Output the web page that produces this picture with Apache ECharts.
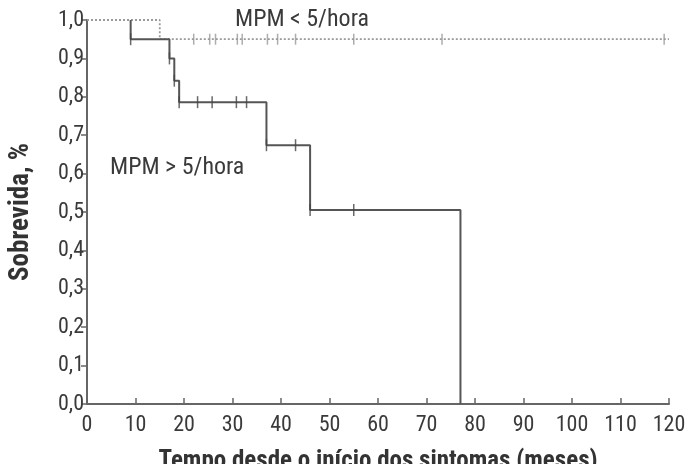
<!DOCTYPE html>
<html>
<head>
<meta charset="utf-8">
<script src="https://cdn.jsdelivr.net/npm/echarts@6/dist/echarts.min.js"></script>
<style>
  html, body { margin: 0; padding: 0; background: #fff; }
  #chart { width: 688px; height: 464px; }
</style>
</head>
<body>
<div id="chart"></div>
<script>
// curva MPM > 5/hora (linha continua) - pontos do degrau
var highTimes = [9, 9, 17, 18, 19, 37, 46, 77]
var highSurv = [1.0, 0.95, 0.90, 0.842, 0.786, 0.674, 0.505, 0]
// censuras MPM > 5/hora
var highCensTimes = [9, 17, 18, 19, 22.8, 25.8, 30.8, 32.9, 37, 43, 46, 55]
var highCensSurv = [0.95, 0.90, 0.842, 0.786, 0.786, 0.786, 0.786, 0.786, 0.674, 0.674, 0.505, 0.505]

// curva MPM < 5/hora (pontilhada)
var lowTimes = [0, 15, 120]
var lowSurv = [1.0, 0.95, 0.95]
var lowCensTimes = [22, 25.3, 26.5, 31, 32, 37.2, 39.3, 43, 55, 73.2, 119]

var xTicks = [0, 10, 20, 30, 40, 50, 60, 70, 80, 90, 100, 110, 120]
var yTicks = [0, 0.1, 0.2, 0.3, 0.4, 0.5, 0.6, 0.7, 0.8, 0.9, 1.0]

var font = '"Roboto Condensed", "DejaVu Sans Condensed", sans-serif'

function pairs (xs, ys) {
  return xs.map(function (x, i) { return [x, ys[i]] })
}

var chart = echarts.init(document.getElementById('chart'))
chart.setOption({
  animation: false,
  textStyle: { fontFamily: font },
  grid: { left: 87, right: 19, top: 20, bottom: 60, containLabel: false, outerBoundsMode: 'none' },
  xAxis: {
    type: 'value',
    min: xTicks[0],
    max: xTicks[xTicks.length - 1],
    interval: 10,
    name: 'Tempo desde o início dos sintomas (meses)',
    nameLocation: 'middle',
    nameGap: 45,
    nameTextStyle: { fontFamily: font, fontSize: 25, fontWeight: 'bold', color: '#333' },
    axisLine: { lineStyle: { color: '#666', width: 2 } },
    axisTick: { inside: true, lineStyle: { color: '#666', width: 1.5 }, length: 6 },
    axisLabel: { fontFamily: font, fontSize: 22, color: '#3a3a3a', margin: 10 },
    splitLine: { show: false }
  },
  yAxis: {
    type: 'value',
    min: yTicks[0],
    max: yTicks[yTicks.length - 1],
    interval: 0.1,
    name: 'Sobrevida, %',
    nameLocation: 'middle',
    nameGap: 52,
    nameTextStyle: { fontFamily: font, fontSize: 27, fontWeight: 'bold', color: '#333' },
    axisLine: { show: true, lineStyle: { color: '#666', width: 2 } },
    axisTick: { show: true, lineStyle: { color: '#666', width: 1.5 }, length: 6 },
    axisLabel: {
      fontFamily: font, fontSize: 22, color: '#3a3a3a', margin: 3,
      formatter: function (v) { return v.toFixed(1).replace('.', ',') }
    },
    splitLine: { show: false }
  },
  series: [
    {
      type: 'line',
      step: 'end',
      data: pairs(lowTimes, lowSurv),
      symbol: 'none',
      lineStyle: { color: '#9a9a9a', width: 1.8, type: [2, 2] },
      z: 2
    },
    {
      type: 'scatter',
      data: lowCensTimes.map(function (t) { return [t, lowSurv[1]] }),
      symbol: 'rect',
      symbolSize: [1.5, 11],
      itemStyle: { color: '#999' },
      z: 3
    },
    {
      type: 'line',
      step: 'end',
      data: pairs(highTimes, highSurv),
      symbol: 'none',
      lineStyle: { color: '#555', width: 2 },
      z: 4
    },
    {
      type: 'scatter',
      data: pairs(highCensTimes, highCensSurv),
      symbol: 'rect',
      symbolSize: [1.5, 12],
      itemStyle: { color: '#444' },
      z: 5
    }
  ],
  graphic: [
    {
      type: 'text', left: 235, top: 8,
      style: { text: 'MPM < 5/hora', font: '24px ' + font, fill: '#3a3a3a' }
    },
    {
      type: 'text', left: 110, top: 156,
      style: { text: 'MPM > 5/hora', font: '24px ' + font, fill: '#3a3a3a' }
    }
  ]
})
</script>
</body>
</html>
